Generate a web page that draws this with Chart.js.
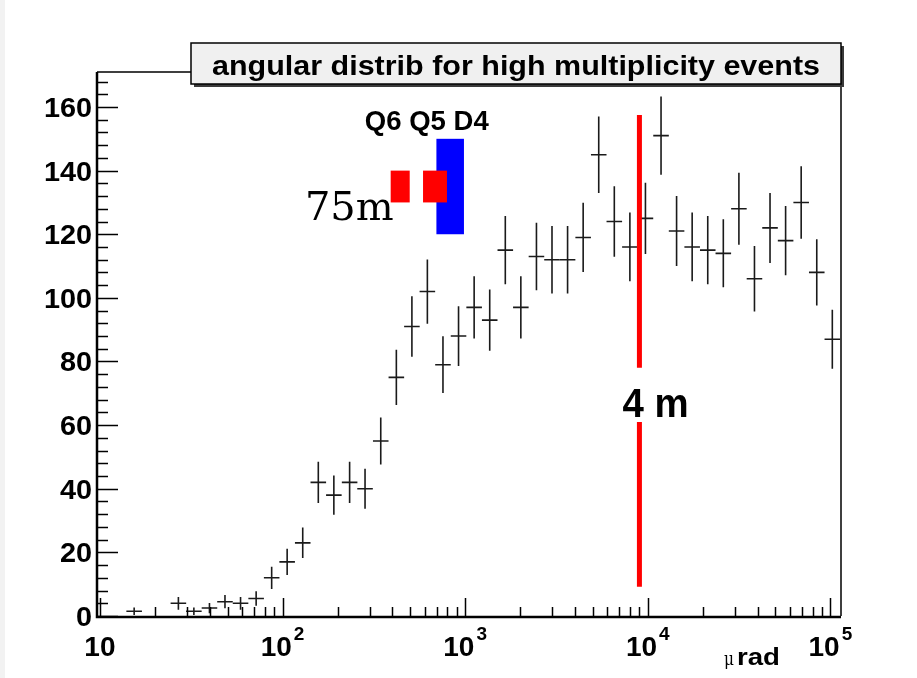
<!DOCTYPE html>
<html>
<head>
<meta charset="utf-8">
<script src="https://cdn.jsdelivr.net/npm/chart.js@4.4.0/dist/chart.umd.min.js"></script>
<style>
  html, body { margin: 0; padding: 0; background: #fff; }
  #wrap { width: 917px; height: 678px; }
</style>
</head>
<body>
<div id="wrap"><canvas id="chart" width="917" height="678"></canvas></div>
<script>
// filled bins of the angular distribution (bin centres in micro-rad)
const binCenters = [15.4, 26.9, 32.7, 39.8, 48.4, 58.9, 71.7, 87.2, 106, 129,
  157, 191, 233, 283, 345, 420, 511, 621, 756, 920,
  1120, 1363, 1659, 2018, 2457, 2989, 3638, 4428, 5388, 6558,
  7980, 9710, 11820, 14380, 17500, 21300, 25920, 31550, 38390, 46710,
  56850, 69180, 84200, 102450];
const counts = [1.5, 4, 1.5, 2.5, 4.5, 4, 5.5, 12, 17, 23,
  42, 38, 42, 40, 55, 75, 91, 102, 79, 88,
  97, 93, 115, 97, 113, 112, 112, 119, 145, 124,
  116, 125, 151, 121, 116, 115, 114, 128, 106, 122,
  118, 130, 108, 87];
const countErrors = [1.2, 2, 1.2, 1.6, 2.1, 2, 2.3, 3.5, 4.1, 4.8,
  6.5, 6.2, 6.5, 6.3, 7.4, 8.7, 9.5, 10.1, 8.9, 9.4,
  9.8, 9.6, 10.7, 9.8, 10.6, 10.6, 10.6, 10.9, 12, 11.1,
  10.8, 11.2, 12.3, 11, 10.8, 10.7, 10.7, 11.3, 10.3, 11,
  10.9, 11.4, 10.4, 9.3];
// half bin width, in decades
const binHalfWidthDex = 0.0426;

const yTickLabels = [0, 20, 40, 60, 80, 100, 120, 140, 160];
const xDecades = [10, 100, 1000, 10000, 100000];
const xExponents = ['', '2', '3', '4', '5'];

// magnet apertures (micro-rad, counts)
const magnetNames = ['D4', 'Q6', 'Q5'];
const magnetFrom = [696, 391, 588];
const magnetTo = [985, 497, 795];
const magnetLow = [120, 130, 130];
const magnetHigh = [150, 140, 140];

// detector at 4 m
const detectorAngle = 9000;
const detectorSpan = [9.2, 157.5];
const detectorGap = [61, 78];

const SANS = '"Liberation Sans", Arial, Helvetica, sans-serif';
const SERIF = '"DejaVu Serif", "Liberation Serif", serif';

function stretchedText(ctx, text, x, y, font, align, sx) {
  ctx.save();
  ctx.font = font;
  ctx.textBaseline = 'alphabetic';
  const w = ctx.measureText(text).width * sx;
  let left = x;
  if (align === 'center') left = x - w / 2;
  else if (align === 'right') left = x - w;
  ctx.translate(left, y);
  ctx.scale(sx, 1);
  ctx.textAlign = 'left';
  ctx.fillText(text, 0, 0);
  ctx.restore();
}

const rootStyle = {
  id: 'rootStyle',
  beforeDraw(chart) {
    const ctx = chart.ctx;
    ctx.save();
    ctx.fillStyle = '#ffffff';
    ctx.fillRect(0, 0, chart.width, chart.height);
    ctx.fillStyle = '#f2f2f2';
    ctx.fillRect(0, 0, 5, chart.height);
    ctx.restore();
  },
  afterDatasetsDraw(chart) {
    const { ctx, chartArea: a, scales: { x, y } } = chart;

    // magnet boxes
    ctx.save();
    magnetNames.forEach((name, i) => {
      ctx.fillStyle = name.startsWith('D') ? '#0000ff' : '#ff0000';
      const x0 = x.getPixelForValue(magnetFrom[i]);
      const x1 = x.getPixelForValue(magnetTo[i]);
      const y0 = y.getPixelForValue(magnetHigh[i]);
      const y1 = y.getPixelForValue(magnetLow[i]);
      ctx.fillRect(x0, y0, x1 - x0, y1 - y0);
    });
    ctx.restore();

    // error crosses
    ctx.save();
    ctx.beginPath();
    ctx.rect(a.left, a.top, a.right - a.left, a.bottom - a.top);
    ctx.clip();
    ctx.strokeStyle = '#1a1a1a';
    ctx.lineWidth = 1.6;
    const f = Math.pow(10, binHalfWidthDex);
    binCenters.forEach((c, i) => {
      const px = x.getPixelForValue(c);
      const xl = x.getPixelForValue(c / f);
      const xr = x.getPixelForValue(c * f);
      const py = y.getPixelForValue(counts[i]);
      const yl = y.getPixelForValue(Math.max(0, counts[i] - countErrors[i]));
      const yh = y.getPixelForValue(counts[i] + countErrors[i]);
      ctx.beginPath();
      ctx.moveTo(xl, py); ctx.lineTo(xr, py);
      ctx.moveTo(px, yl); ctx.lineTo(px, yh);
      ctx.stroke();
    });
    ctx.restore();

    // detector line, broken around its label
    ctx.save();
    ctx.strokeStyle = '#ff0000';
    ctx.lineWidth = 5;
    const dx = x.getPixelForValue(detectorAngle);
    ctx.beginPath();
    ctx.moveTo(dx, y.getPixelForValue(detectorSpan[1]));
    ctx.lineTo(dx, y.getPixelForValue(detectorGap[1]));
    ctx.moveTo(dx, y.getPixelForValue(detectorGap[0]));
    ctx.lineTo(dx, y.getPixelForValue(detectorSpan[0]));
    ctx.stroke();
    ctx.restore();

    // annotation text
    ctx.save();
    ctx.fillStyle = '#000';
    stretchedText(ctx, 'Q6 Q5 D4', x.getPixelForValue(282), y.getPixelForValue(152.8), 'bold 27px ' + SANS, 'left', 1.02);
    stretchedText(ctx, '75m', x.getPixelForValue(132.6), y.getPixelForValue(124.5), '40px ' + SERIF, 'left', 1.0);
    stretchedText(ctx, '4 m', x.getPixelForValue(7272), y.getPixelForValue(62.7), 'bold 40px ' + SANS, 'left', 0.96);
    ctx.restore();

    // axes frame and ticks
    ctx.save();
    ctx.strokeStyle = '#000';
    ctx.lineWidth = 1.5;
    ctx.beginPath();
    ctx.moveTo(a.left, a.top); ctx.lineTo(a.right, a.top); ctx.lineTo(a.right, a.bottom);
    ctx.stroke();
    ctx.lineWidth = 2.5;
    ctx.beginPath();
    ctx.moveTo(a.left, a.top); ctx.lineTo(a.left, a.bottom + 1); ctx.lineTo(a.right, a.bottom + 1);
    ctx.stroke();

    ctx.lineWidth = 1.5;
    ctx.beginPath();
    for (let v = 0; v <= y.max; v += 4) {
      const py = Math.round(y.getPixelForValue(v)) + 0.5;
      const len = v % 20 === 0 ? 21 : 11;
      ctx.moveTo(a.left, py); ctx.lineTo(a.left + len, py);
    }
    xDecades.forEach(d => {
      for (let m = 1; m <= 9; m++) {
        const v = m * d;
        if (v < x.min || v > x.max) continue;
        const px = Math.round(x.getPixelForValue(v)) + 0.5;
        const len = m === 1 ? 18 : 9;
        ctx.moveTo(px, a.bottom); ctx.lineTo(px, a.bottom - len);
      }
    });
    ctx.stroke();

    // tick labels
    ctx.fillStyle = '#000';
    yTickLabels.forEach(v => {
      stretchedText(ctx, String(v), a.left - 5, y.getPixelForValue(v) + 10, 'bold 28px ' + SANS, 'right', 1.03);
    });
    xDecades.forEach((d, i) => {
      const px = x.getPixelForValue(d);
      const base = 'bold 28px ' + SANS;
      const sup = 'bold 19px ' + SANS;
      ctx.font = base;
      const wb = ctx.measureText('10').width;
      ctx.font = sup;
      const ws = xExponents[i] ? ctx.measureText(xExponents[i]).width + 2 : 0;
      const left = px - (wb + ws) / 2;
      stretchedText(ctx, '10', left, a.bottom + 40, base, 'left', 1.0);
      if (xExponents[i]) stretchedText(ctx, xExponents[i], left + wb + 2, a.bottom + 24, sup, 'left', 1.0);
    });

    // x axis title
    stretchedText(ctx, '\u03bc', 724, a.bottom + 49, '18px ' + SERIF, 'left', 0.85);
    stretchedText(ctx, 'rad', 737, a.bottom + 49, 'bold 24px ' + SANS, 'left', 1.15);

    // title box with shadow
    const tx0 = 191, tx1 = a.right, ty0 = 43, ty1 = 84;
    ctx.fillStyle = '#3a3a3a';
    ctx.fillRect(tx0 + 3, ty0 + 3, tx1 - tx0, ty1 - ty0);
    ctx.fillStyle = '#f0f0f0';
    ctx.fillRect(tx0, ty0, tx1 - tx0, ty1 - ty0);
    ctx.lineWidth = 1.5;
    ctx.strokeStyle = '#000';
    ctx.strokeRect(tx0, ty0, tx1 - tx0, ty1 - ty0);
    ctx.fillStyle = '#000';
    const title = 'angular distrib for high multiplicity events';
    ctx.font = 'bold 27px ' + SANS;
    const tw = ctx.measureText(title).width;
    stretchedText(ctx, title, (tx0 + tx1) / 2, 75, 'bold 27px ' + SANS, 'center', 608 / tw);
    ctx.restore();
  }
};

new Chart(document.getElementById('chart'), {
  type: 'scatter',
  data: {
    datasets: [{
      data: binCenters.map((c, i) => ({ x: c, y: counts[i] })),
      pointRadius: 0,
      showLine: false
    }]
  },
  options: {
    responsive: false,
    animation: false,
    devicePixelRatio: 1,
    layout: { padding: { left: 97, right: 76, top: 72, bottom: 62 } },
    plugins: { legend: { display: false }, tooltip: { enabled: false } },
    scales: {
      x: { type: 'logarithmic', min: 9.64, max: 114300, display: false },
      y: { type: 'linear', min: 0, max: 171, display: false }
    }
  },
  plugins: [rootStyle]
});
</script>
</body>
</html>
